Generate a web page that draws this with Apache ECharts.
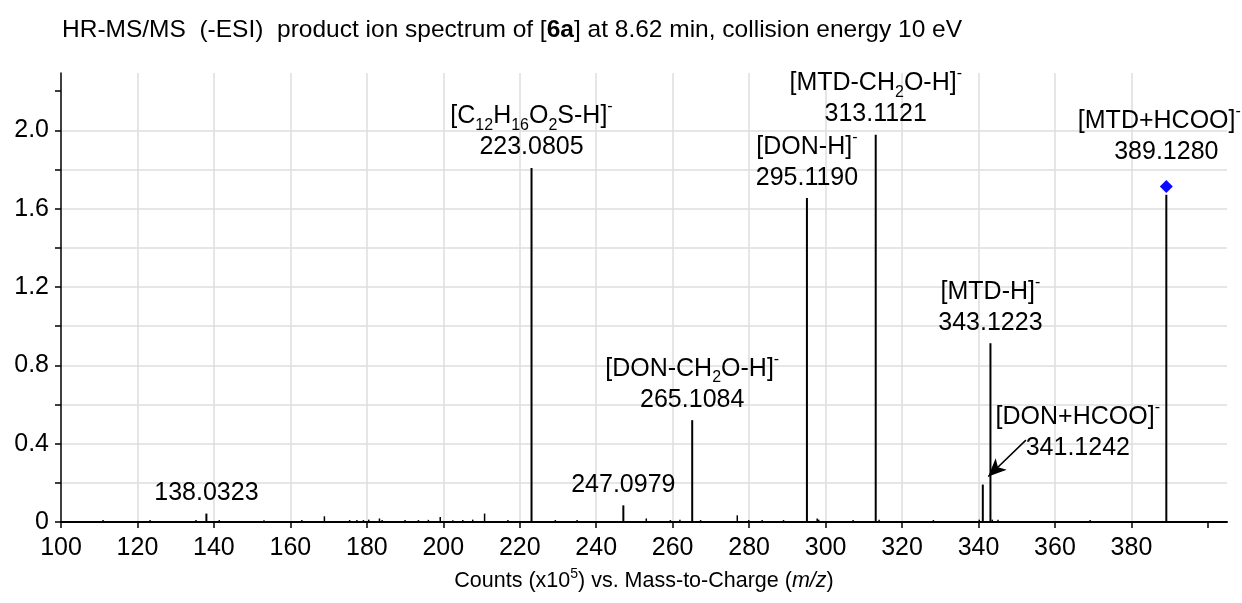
<!DOCTYPE html>
<html>
<head>
<meta charset="utf-8">
<script src="https://cdn.jsdelivr.net/npm/echarts@6/dist/echarts.min.js"></script>
<style>
  html, body { margin: 0; padding: 0; background: #fff; }
  #chart { width: 1242px; height: 603px; }
</style>
</head>
<body>
<div id="chart"></div>
<script>
// Annotated fragment ions: m/z, counts (x10^5) and ion assignment
const ionMz     = [138.0323, 223.0805, 247.0979, 265.1084, 295.1190, 313.1121, 341.1242, 343.1223, 389.1280];
const ionCounts = [0.043,    1.808,    0.085,    0.520,    1.654,    1.978,    0.191,    0.913,    1.671];
const ionNames  = [
  '',
  '[C{s|12}H{s|16}O{s|2}S-H]{p|-}',
  '',
  '[DON-CH{s|2}O-H]{p|-}',
  '[DON-H]{p|-}',
  '[MTD-CH{s|2}O-H]{p|-}',
  '[DON+HCOO]{p|-}',
  '[MTD-H]{p|-}',
  '[MTD+HCOO]{pe|-}'
];

// Unlabelled minor peaks
const minorMz = [111.0, 123.3, 135.3, 141.4, 153.1, 163.0, 168.9, 175.5, 177.4, 179.1, 180.5,
                 183.3, 184.0, 190.0, 193.5, 196.1, 199.2, 202.5, 205.1, 207.7, 210.8, 216.9,
                 229.3, 235.0, 253.1, 259.4, 261.9, 267.3, 276.9, 279.9, 283.4, 289.0, 297.8,
                 298.2, 307.2, 314.0, 328.2, 340.2, 343.6, 345.1, 369.2];
const minorCounts = [0.010, 0.010, 0.010, 0.010, 0.009, 0.010, 0.029, 0.010, 0.010, 0.010, 0.012,
                     0.018, 0.010, 0.010, 0.010, 0.011, 0.026, 0.009, 0.010, 0.012, 0.043, 0.010,
                     0.010, 0.010, 0.018, 0.010, 0.012, 0.010, 0.034, 0.010, 0.010, 0.010, 0.018,
                     0.012, 0.010, 0.012, 0.010, 0.012, 0.012, 0.012, 0.010];

// Precursor ion marker
const precursorMz = 389.1280;
const precursorCounts = 1.714;

// Axis ticks and labels
const xTickValues  = [100, 120, 140, 160, 180, 200, 220, 240, 260, 280, 300, 320, 340, 360, 380, 400];
const xLabelValues = [100, 120, 140, 160, 180, 200, 220, 240, 260, 280, 300, 320, 340, 360, 380];
const yTickValues  = [0, 0.2, 0.4, 0.6, 0.8, 1.0, 1.2, 1.4, 1.6, 1.8, 2.0, 2.2];
const yLabelValues = [0, 0.4, 0.8, 1.2, 1.6, 2.0];

const FONT = '"Liberation Sans", Arial, sans-serif';
const FS_TITLE = 24.5;
const FS = 25;

const richStyles = {
  s:  { fontSize: 16, fontFamily: FONT, color: '#000', lineHeight: 10, padding: [18, 0, 0, 0] },
  p:  { fontSize: 16, fontFamily: FONT, color: '#000', lineHeight: 10, padding: [0, 0, 19, 0] },
  // charge sign at the right edge of the plot, kept inside the canvas
  pe: { fontSize: 16, fontFamily: FONT, color: '#000', lineHeight: 10, padding: [0, 14, 19, 0] }
};

function labelText(name, mz) {
  const num = mz.toFixed(4);
  return name ? name + '\n' + num : num;
}

const peakData = [];
ionMz.forEach((m, i) => peakData.push({ value: [m, ionCounts[i]], main: true }));
minorMz.forEach((m, i) => peakData.push({ value: [m, minorCounts[i]], main: false }));

// labelled points (the precursor label sits on its marker instead)
const labelData = [];
let precursorName = '';
ionMz.forEach((m, i) => {
  if (m === precursorMz) { precursorName = ionNames[i]; return; }
  const item = {
    value: [m, ionCounts[i]],
    label: { formatter: labelText(ionNames[i], m) }
  };
  if (m === 341.1242) {
    item.label.offset = [95, -16];
  }
  labelData.push(item);
});

const chart = echarts.init(document.getElementById('chart'), null, { renderer: 'canvas' });

chart.setOption({
  animation: false,
  backgroundColor: '#fff',
  title: {
    text: 'HR-MS/MS  (-ESI)  product ion spectrum of [{b|6a}] at 8.62 min, collision energy 10 eV',
    left: 62,
    top: 18,
    padding: 0,
    textStyle: {
      fontFamily: FONT, fontSize: FS_TITLE, fontWeight: 'normal', color: '#000',
      rich: { b: { fontFamily: FONT, fontSize: FS_TITLE, fontWeight: 'bold', color: '#000' } }
    }
  },
  grid: { left: 61, right: 15, top: 73, bottom: 81, containLabel: false, outerBoundsMode: 'none' },
  xAxis: {
    type: 'value',
    min: 100,
    max: 405,
    interval: 20,
    name: 'Counts (x10{sup|5}) vs. Mass-to-Charge ({i|m/z})',
    nameLocation: 'middle',
    nameGap: 48,
    nameTextStyle: {
      fontFamily: FONT, fontSize: 21.5, color: '#000',
      rich: {
        sup: { fontFamily: FONT, fontSize: 14, color: '#000', lineHeight: 10, padding: [0, 0, 13, 0] },
        i: { fontFamily: FONT, fontSize: 21.5, fontStyle: 'italic', color: '#000' }
      }
    },
    axisLine: { show: true, onZero: false, lineStyle: { color: '#000', width: 2 } },
    axisTick: { show: true, inside: false, length: 6, customValues: xTickValues, lineStyle: { color: '#000', width: 1.5 } },
    axisLabel: {
      show: true, margin: 14, customValues: xLabelValues,
      fontFamily: FONT, fontSize: FS, color: '#000',
      formatter: v => String(v)
    },
    splitLine: { show: true, showMinLine: false, showMaxLine: false, lineStyle: { color: '#dedede', width: 1.5 } }
  },
  yAxis: {
    type: 'value',
    min: 0,
    max: 2.293,
    interval: 0.2,
    axisLine: { show: true, onZero: false, lineStyle: { color: '#000', width: 1.5 } },
    axisTick: { show: true, inside: false, length: 6, customValues: yTickValues, lineStyle: { color: '#000', width: 1.5 } },
    axisLabel: {
      show: true, margin: 12, customValues: yLabelValues,
      fontFamily: FONT, fontSize: FS, color: '#000',
      formatter: v => (v === 0 ? '0' : v.toFixed(1))
    },
    splitLine: { show: true, showMinLine: false, showMaxLine: false, lineStyle: { color: '#dedede', width: 1.5 } }
  },
  series: [
    {
      // stick spectrum
      type: 'custom',
      silent: true,
      data: peakData,
      encode: { x: 0, y: 1 },
      renderItem: function (params, api) {
        const x = api.value(0);
        const y = api.value(1);
        const p0 = api.coord([x, 0]);
        const p1 = api.coord([x, y]);
        const main = peakData[params.dataIndex].main;
        return {
          type: 'line',
          shape: { x1: p0[0], y1: p0[1], x2: p1[0], y2: p1[1] },
          style: { stroke: '#000', lineWidth: main ? 2 : 1.5 }
        };
      }
    },
    {
      // peak annotations
      type: 'scatter',
      silent: true,
      symbolSize: 0,
      itemStyle: { opacity: 1 },
      data: labelData,
      label: {
        show: true,
        position: 'top',
        distance: 5,
        align: 'center',
        fontFamily: FONT,
        fontSize: FS,
        lineHeight: 31,
        color: '#000',
        rich: richStyles
      },
      markLine: {
        silent: true,
        symbol: ['none', 'arrow'],
        symbolSize: [12, 18],
        label: { show: false },
        lineStyle: { color: '#000', width: 1.5, type: 'solid', opacity: 1 },
        data: [[{ coord: [352.4, 0.418] }, { coord: [342.55, 0.232] }]]
      }
    },
    {
      // precursor marker
      type: 'scatter',
      silent: true,
      symbol: 'diamond',
      symbolSize: 13,
      itemStyle: { color: '#0a0aff', opacity: 1 },
      data: [{
        value: [precursorMz, precursorCounts],
        label: { formatter: labelText(precursorName, precursorMz) }
      }],
      label: {
        show: true,
        position: 'top',
        distance: 12,
        align: 'center',
        fontFamily: FONT,
        fontSize: FS,
        lineHeight: 31,
        color: '#000',
        rich: richStyles
      }
    }
  ]
});
</script>
</body>
</html>
